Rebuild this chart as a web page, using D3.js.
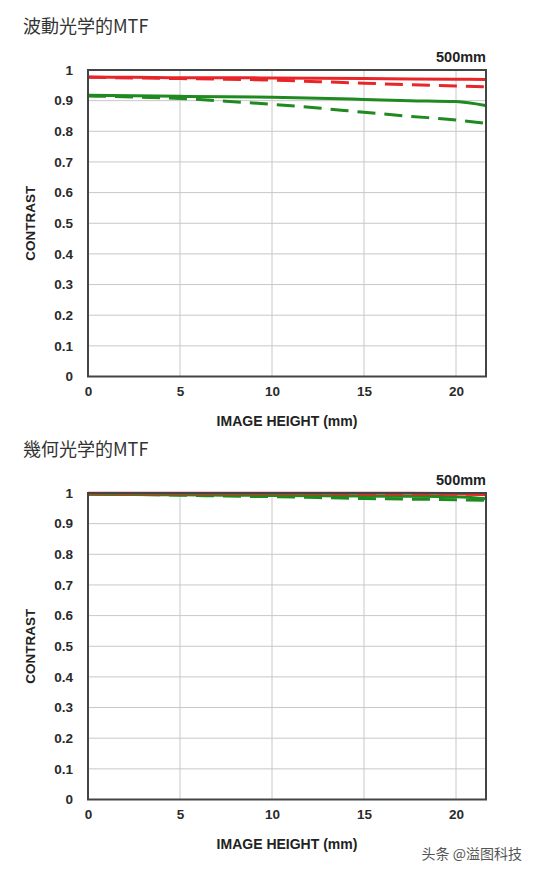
<!DOCTYPE html>
<html><head><meta charset="utf-8">
<script src="https://cdn.jsdelivr.net/npm/d3@7"></script>
<style>body{margin:0;background:#fff}svg{display:block}</style>
</head><body>
<svg id="c" width="534" height="872"></svg>
<script>
const heights = [0, 2.5, 5, 7.5, 10, 12.5, 15, 17.5, 20, 21.6];
const xTicks = [0, 5, 10, 15, 20];
const yTicks = [0, 0.1, 0.2, 0.3, 0.4, 0.5, 0.6, 0.7, 0.8, 0.9, 1];
const yTickLabels = ["0","0.1","0.2","0.3","0.4","0.5","0.6","0.7","0.8","0.9","1"];
const titles = ["波動光学的MTF", "幾何光学的MTF"];
const focal = "500mm";
// wave-optics MTF
const waveRedSolid   = [0.977, 0.976, 0.975, 0.975, 0.974, 0.973, 0.972, 0.971, 0.970, 0.969];
const waveRedDash    = [0.976, 0.974, 0.972, 0.970, 0.967, 0.962, 0.957, 0.952, 0.948, 0.945];
const waveGreenSolid = [0.918, 0.916, 0.914, 0.913, 0.911, 0.908, 0.904, 0.900, 0.897, 0.884];
const waveGreenDash  = [0.915, 0.912, 0.907, 0.898, 0.888, 0.876, 0.862, 0.849, 0.837, 0.826];
// geometric-optics MTF
const geoRedSolid    = [0.999, 0.999, 0.999, 0.999, 0.999, 0.999, 0.999, 0.999, 0.998, 0.994];
const geoRedDash     = [0.998, 0.998, 0.998, 0.998, 0.998, 0.998, 0.997, 0.997, 0.996, 0.995];
const geoGreenSolid  = [0.996, 0.995, 0.994, 0.993, 0.992, 0.991, 0.990, 0.989, 0.988, 0.981];
const geoGreenDash   = [0.996, 0.995, 0.993, 0.990, 0.988, 0.985, 0.982, 0.980, 0.978, 0.976];

const charts = [
  {series: [[waveGreenDash,"#1f8a1f",true],[waveGreenSolid,"#1f8a1f",false],[waveRedDash,"#e8262a",true],[waveRedSolid,"#e8262a",false]]},
  {series: [[geoGreenDash,"#1f8a1f",true],[geoGreenSolid,"#1f8a1f",false],[geoRedDash,"#e8262a",true],[geoRedSolid,"#e8262a",false]]}
];
const offsets = [0, 423];
const svg = d3.select("#c");
const L = 88, R = 486, T = 70, B = 376.5;
const x = d3.scaleLinear().domain([0, 21.63]).range([L, R]);
const y = d3.scaleLinear().domain([0, 1]).range([B, T]);
const tickFont = "'Liberation Sans', Arial, sans-serif";

charts.forEach((ch, i) => {
  const g = svg.append("g").attr("transform", `translate(0,${offsets[i]})`);
  g.append("text").attr("x", 23).attr("y", 33)
    .attr("font-family", "'Noto Sans CJK JP', 'Noto Sans CJK SC', sans-serif")
    .attr("font-size", 18).attr("fill", "#333").text(titles[i]);
  g.append("text").attr("x", R).attr("y", 62).attr("text-anchor", "end")
    .attr("font-family", tickFont).attr("font-weight", "bold")
    .attr("font-size", 14.5).attr("fill", "#222").text(focal);
  // grid
  g.append("g").selectAll("line.h").data(yTicks.slice(1, -1)).join("line")
    .attr("x1", L).attr("x2", R).attr("y1", d => y(d)).attr("y2", d => y(d))
    .attr("stroke", "#c8c8c8").attr("stroke-width", 1);
  g.append("g").selectAll("line.v").data(xTicks.slice(1)).join("line")
    .attr("x1", d => x(d)).attr("x2", d => x(d)).attr("y1", T).attr("y2", B)
    .attr("stroke", "#c8c8c8").attr("stroke-width", 1);
  // lines
  const line = d3.line().x((d, k) => x(heights[k])).y(d => y(d)).curve(d3.curveMonotoneX);
  ch.series.forEach(([vals, col, dash]) => {
    g.append("path").attr("d", line(vals)).attr("fill", "none")
      .attr("stroke", col).attr("stroke-width", 3)
      .attr("stroke-dasharray", dash ? "18,9" : null);
  });
  // frame
  g.append("rect").attr("x", L).attr("y", T).attr("width", R - L).attr("height", B - T)
    .attr("fill", "none").attr("stroke", "#444").attr("stroke-width", 2);
  // axes via d3
  const ax = g.append("g").attr("transform", `translate(0,${B})`)
    .call(d3.axisBottom(x).tickValues(xTicks).tickSize(0).tickPadding(10).tickFormat(d3.format("d")));
  ax.select(".domain").remove();
  ax.selectAll("text").attr("font-family", tickFont).attr("font-weight", "bold")
    .attr("font-size", 13.5).attr("fill", "#2a2a2a");
  const ay = g.append("g").attr("transform", `translate(${L},0)`)
    .call(d3.axisLeft(y).tickValues(yTicks).tickSize(0).tickPadding(15)
      .tickFormat((d, k) => yTickLabels[k]));
  ay.select(".domain").remove();
  ay.selectAll("text").attr("font-family", tickFont).attr("font-weight", "bold")
    .attr("font-size", 13.5).attr("fill", "#2a2a2a");
  g.append("text").attr("x", 287).attr("y", 426).attr("text-anchor", "middle")
    .attr("font-family", tickFont).attr("font-weight", "bold")
    .attr("font-size", 14).attr("fill", "#222").text("IMAGE HEIGHT (mm)");
  g.append("text").attr("transform", `translate(35,${(T + B) / 2}) rotate(-90)`)
    .attr("text-anchor", "middle")
    .attr("font-family", tickFont).attr("font-weight", "bold")
    .attr("font-size", 13.5).attr("fill", "#222").text("CONTRAST");
});
svg.append("text").attr("x", 522).attr("y", 859).attr("text-anchor", "end")
  .attr("font-family", "'Noto Sans CJK SC', sans-serif").attr("font-size", 14)
  .attr("fill", "#555").text("头条 @溢图科技");
</script>
</body></html>
